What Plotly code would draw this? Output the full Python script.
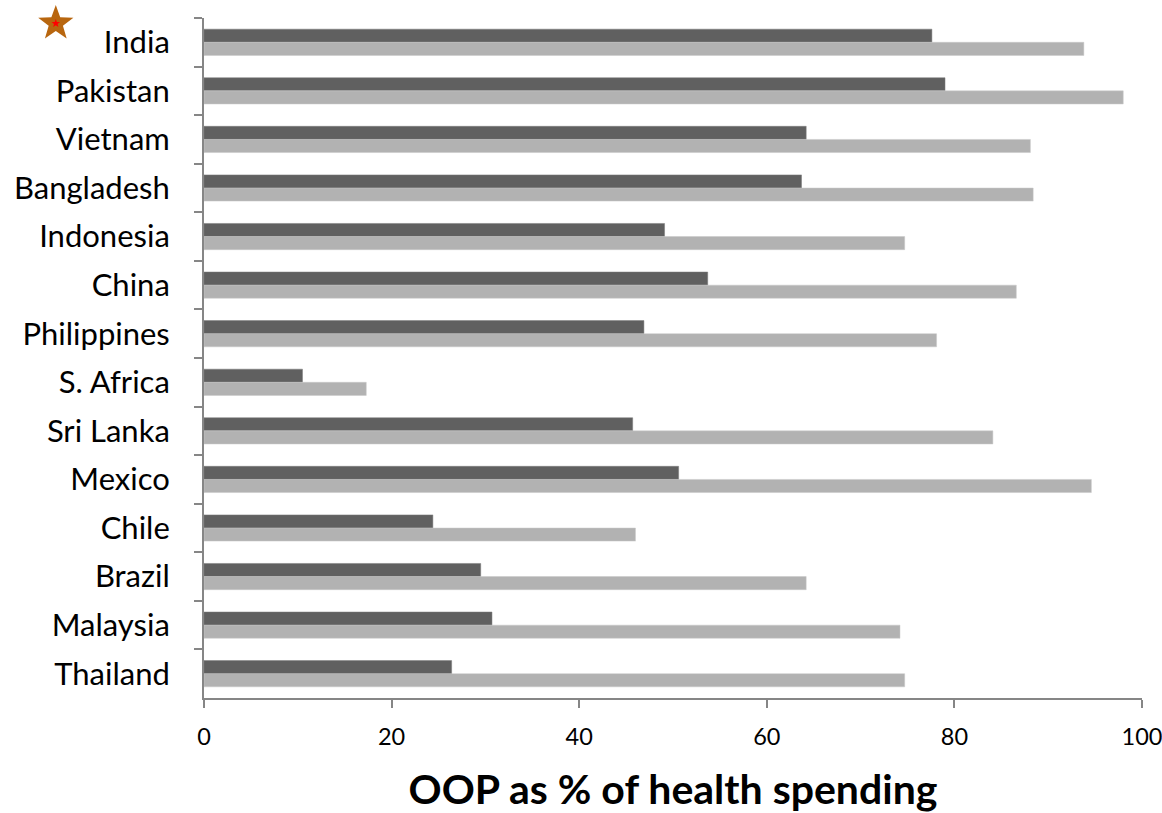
import math
import plotly.graph_objects as go

# Countries, top to bottom
countries = ["India", "Pakistan", "Vietnam", "Bangladesh", "Indonesia", "China",
             "Philippines", "S. Africa", "Sri Lanka", "Mexico", "Chile", "Brazil",
             "Malaysia", "Thailand"]

# Out-of-pocket spending as % of total health spending
oop_total = [77.6, 79.0, 64.2, 63.7, 49.1, 53.7, 46.9, 10.5, 45.7, 50.6, 24.4, 29.5, 30.7, 26.4]
# Out-of-pocket spending as % of private health spending
oop_private = [93.8, 98.0, 88.1, 88.4, 74.7, 86.6, 78.1, 17.3, 84.1, 94.6, 46.0, 64.2, 74.2, 74.7]

x_ticks = [0, 20, 40, 60, 80, 100]

AXIS = "#868686"
FONT = "Lato"


def star_path(r_outer, r_inner):
    """SVG path of an upward five-point star, in pixels around its centre."""
    pts = []
    for k in range(10):
        r = r_outer if k % 2 == 0 else r_inner
        a = math.pi / 2 + k * math.pi / 5
        pts.append((r * math.cos(a), r * math.sin(a)))
    return "M " + " L ".join(f"{px:.2f},{py:.2f}" for px, py in pts) + " Z"


fig = go.Figure()
fig.add_trace(go.Bar(
    y=countries, x=oop_total, orientation="h", name="Series 1",
    marker=dict(color="#606060", line=dict(color="#7a7a7a", width=0.5)),
))
fig.add_trace(go.Bar(
    y=countries, x=oop_private, orientation="h", name="Series 2",
    marker=dict(color="#B2B2B2", line=dict(color="#c8c8c8", width=0.5)),
))

# highlight star beside the India label, anchored in paper space, sized in pixels
star_anchor = dict(xref="paper", yref="paper", xsizemode="pixel", ysizemode="pixel",
                   xanchor=-0.158, yanchor=0.992, layer="above")
shapes = [
    dict(type="path", path=star_path(18.5, 7.5), fillcolor="#B8660F",
         line=dict(width=0), **star_anchor),
    dict(type="path", path=star_path(4.5, 1.9), fillcolor="#FF0000",
         line=dict(width=0), **star_anchor),
]

fig.update_layout(
    width=1162, height=813,
    margin=dict(l=204, r=20, t=18, b=115),
    paper_bgcolor="white", plot_bgcolor="white",
    barmode="group", bargap=0.46, bargroupgap=0,
    showlegend=False,
    font=dict(family=FONT, color="black"),
    xaxis=dict(
        range=[0, 100], tickvals=x_ticks, ticks="outside", ticklen=8,
        tickwidth=2, tickcolor=AXIS, showline=True, linecolor=AXIS, linewidth=2,
        showgrid=False, zeroline=False, tickfont=dict(size=23.5, family=FONT),
        ticklabeloverflow="allow", ticklabelstandoff=9, automargin=False,
        title=dict(text="<b>OOP as % of health spending</b>",
                   font=dict(size=41, family=FONT), standoff=26),
    ),
    yaxis=dict(
        autorange="reversed", tickson="boundaries", ticks="outside", ticklen=8,
        tickwidth=2, tickcolor=AXIS, showline=True, linecolor=AXIS, linewidth=2,
        showgrid=False, tickfont=dict(size=31, family=FONT),
        ticklabelstandoff=26, automargin=False,
    ),
    shapes=shapes,
)

fig.write_html("out.html")
